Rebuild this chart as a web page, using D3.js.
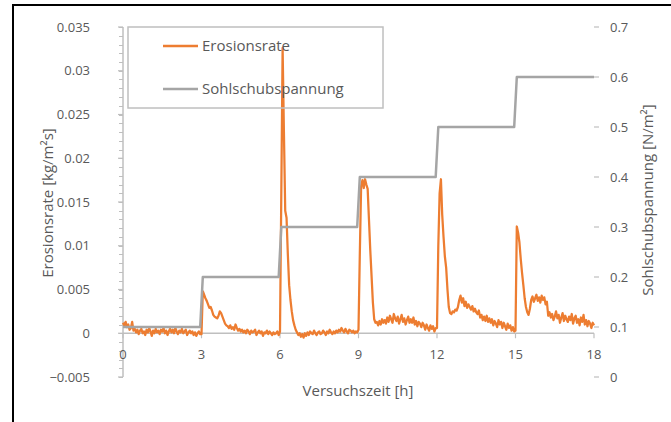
<!DOCTYPE html>
<html>
<head>
<meta charset="utf-8">
<script src="https://cdn.jsdelivr.net/npm/d3@7"></script>
<style>
  html, body { margin: 0; padding: 0; background: #fff; }
  svg { display: block; }
  text { font-family: "Open Sans", "Noto Sans", sans-serif; fill: #595959; }
</style>
</head>
<body>
<svg id="chart" width="671" height="422"></svg>
<script>
// Erosion test: erosion rate (primary axis) and bed shear stress (secondary axis)
const sampleStepHours = 0.05;

// Erosionsrate [kg/m²s], one value every 0.05 h from 0 h to 18 h
const erosionRate = [
  // 0 h
  0.0012, 0.0009, 0.0013, 0.0007, 0.0010, 0.0004, 0.0006, 0.0013, 0.0003, 0.0005,
  0.0001, 0.0004, -0.0001, 0.0003, 0.0005, 0.0000, 0.0002, -0.0002, 0.0004, 0.0001,
  // 1 h
  0.0006, 0.0002, -0.0003, 0.0003, 0.0000, 0.0005, 0.0001, 0.0003, -0.0001, 0.0004,
  0.0002, 0.0006, 0.0000, 0.0003, -0.0002, 0.0002, 0.0005, 0.0001, 0.0004, 0.0000,
  // 2 h
  0.0006, 0.0002, -0.0001, 0.0003, 0.0001, 0.0005, 0.0000, 0.0002, 0.0004, -0.0002,
  0.0001, 0.0003, 0.0000, 0.0002, -0.0002, 0.0001, -0.0003, 0.0000, 0.0002, -0.0001,
  // 3 h
  -0.0001, 0.0048, 0.0044, 0.0040, 0.0037, 0.0033, 0.0029, 0.0030, 0.0026, 0.0021,
  0.0019, 0.0018, 0.0017, 0.0020, 0.0025, 0.0023, 0.0019, 0.0015, 0.0011, 0.0009,
  // 4 h
  0.0008, 0.0006, 0.0009, 0.0005, 0.0007, 0.0004, 0.0010, 0.0006, 0.0003, 0.0005,
  0.0002, 0.0004, 0.0001, 0.0003, 0.0000, 0.0004, 0.0002, -0.0001, 0.0003, 0.0001,
  // 5 h
  0.0002, 0.0004, -0.0002, 0.0001, 0.0003, 0.0000, 0.0002, -0.0003, 0.0001, 0.0000,
  0.0003, -0.0001, 0.0002, 0.0000, -0.0002, 0.0001, -0.0001, 0.0000, 0.0002, -0.0002,
  // 6 h
  0.0002, 0.0160, 0.0326, 0.0230, 0.0140, 0.0132, 0.0090, 0.0055, 0.0038, 0.0025,
  0.0015, 0.0009, 0.0004, 0.0001, -0.0002, 0.0000, -0.0004, -0.0001, -0.0005, 0.0000,
  // 7 h
  -0.0003, 0.0001, -0.0002, 0.0002, 0.0000, -0.0001, 0.0003, 0.0000, -0.0002, 0.0001,
  0.0002, -0.0001, 0.0000, 0.0003, 0.0001, -0.0002, 0.0002, 0.0000, 0.0004, 0.0001,
  // 8 h
  -0.0001, 0.0002, 0.0000, 0.0003, 0.0001, 0.0004, 0.0002, 0.0006, 0.0003, 0.0001,
  0.0005, 0.0002, 0.0000, 0.0004, 0.0003, 0.0001, 0.0003, 0.0000, 0.0002, 0.0001,
  // 9 h
  0.0004, 0.0090, 0.0168, 0.0175, 0.0166, 0.0176, 0.0170, 0.0165, 0.0130, 0.0095,
  0.0065, 0.0035, 0.0016, 0.0012, 0.0013, 0.0009, 0.0014, 0.0010, 0.0016, 0.0012,
  // 10 h
  0.0015, 0.0011, 0.0018, 0.0013, 0.0020, 0.0016, 0.0012, 0.0022, 0.0017, 0.0014,
  0.0019, 0.0011, 0.0016, 0.0021, 0.0013, 0.0017, 0.0010, 0.0015, 0.0019, 0.0012,
  // 11 h
  0.0016, 0.0012, 0.0018, 0.0010, 0.0014, 0.0008, 0.0013, 0.0011, 0.0007, 0.0012,
  0.0009, 0.0004, 0.0010, 0.0006, 0.0003, 0.0009, 0.0005, 0.0008, 0.0002, 0.0006,
  // 12 h
  0.0006, 0.0100, 0.0160, 0.0176, 0.0135, 0.0110, 0.0088, 0.0075, 0.0050, 0.0030,
  0.0023, 0.0022, 0.0025, 0.0024, 0.0027, 0.0026, 0.0030, 0.0038, 0.0043, 0.0035,
  // 13 h
  0.0040, 0.0031, 0.0036, 0.0029, 0.0033, 0.0030, 0.0027, 0.0031, 0.0025, 0.0028,
  0.0024, 0.0022, 0.0026, 0.0018, 0.0021, 0.0015, 0.0019, 0.0014, 0.0020, 0.0013,
  // 14 h
  0.0017, 0.0012, 0.0016, 0.0009, 0.0014, 0.0011, 0.0007, 0.0015, 0.0010, 0.0013,
  0.0006, 0.0012, 0.0008, 0.0004, 0.0011, 0.0006, 0.0009, 0.0003, 0.0007, 0.0002,
  // 15 h
  0.0003, 0.0122, 0.0115, 0.0104, 0.0085, 0.0069, 0.0055, 0.0040, 0.0030, 0.0024,
  0.0021, 0.0028, 0.0038, 0.0042, 0.0036, 0.0040, 0.0044, 0.0037, 0.0041, 0.0035,
  // 16 h
  0.0043, 0.0038, 0.0041, 0.0033, 0.0036, 0.0020, 0.0024, 0.0018, 0.0022, 0.0015,
  0.0019, 0.0025, 0.0017, 0.0021, 0.0012, 0.0018, 0.0023, 0.0014, 0.0020, 0.0016,
  // 17 h
  0.0013, 0.0019, 0.0015, 0.0022, 0.0011, 0.0017, 0.0020, 0.0012, 0.0016, 0.0009,
  0.0018, 0.0013, 0.0021, 0.0010, 0.0015, 0.0008, 0.0014, 0.0011, 0.0006, 0.0012,
  // 18 h
  0.0009
];

// Sohlschubspannung [N/m²], stepped load schedule
const stressTime  = [0, 2.95, 3.05, 5.95, 6.05, 8.95, 9.05, 11.95, 12.05, 14.95, 15.05, 18];
const stressValue = [0.1, 0.1, 0.2, 0.2, 0.3, 0.3, 0.4, 0.4, 0.5, 0.5, 0.6, 0.6];

const timeTicks    = [0, 3, 6, 9, 12, 15, 18];
const rateTicks    = [-0.005, 0, 0.005, 0.01, 0.015, 0.02, 0.025, 0.03, 0.035];
const rateMinor    = d3.range(-0.005, 0.03501, 0.001);
const stressTicks  = [0, 0.1, 0.2, 0.3, 0.4, 0.5, 0.6, 0.7];

const seriesNames = ["Erosionsrate", "Sohlschubspannung"];
const xTitle = "Versuchszeit [h]";
const yTitle = "Erosionsrate [kg/m²s]";
const y2Title = "Sohlschubspannung [N/m²]";

const colors = { rate: "#ED7D31", stress: "#A5A5A5", axis: "#BFBFBF", text: "#595959" };

const svg = d3.select("#chart");
const plot = { left: 123, right: 594, top: 27, bottom: 377 };

const x = d3.scaleLinear().domain([0, 18]).range([plot.left, plot.right]);
const y = d3.scaleLinear().domain([-0.005, 0.035]).range([plot.bottom, plot.top]);
const y2 = d3.scaleLinear().domain([0, 0.7]).range([plot.bottom, plot.top]);

// outer frame
svg.append("rect")
  .attr("x", 13).attr("y", 5).attr("width", 700).attr("height", 500)
  .attr("fill", "none").attr("stroke", "#000").attr("stroke-width", 2);

const fmtRate = v => (Math.abs(v) < 1e-12 ? "0" : d3.format("")(+v.toFixed(3)));

// left axis: minor ticks
const gY = svg.append("g");
gY.selectAll("line.minor").data(rateMinor).join("line")
  .attr("x1", plot.left - 4).attr("x2", plot.left)
  .attr("y1", d => Math.round(y(d)) + 0.5).attr("y2", d => Math.round(y(d)) + 0.5)
  .attr("stroke", colors.axis).attr("stroke-width", 1);
gY.append("line")
  .attr("x1", plot.left).attr("x2", plot.left)
  .attr("y1", plot.top).attr("y2", plot.bottom)
  .attr("stroke", colors.axis).attr("stroke-width", 1.5);
gY.selectAll("line.major").data(rateTicks).join("line")
  .attr("x1", plot.left - 5).attr("x2", plot.left)
  .attr("y1", d => y(d)).attr("y2", d => y(d))
  .attr("stroke", colors.axis).attr("stroke-width", 1.2);
gY.selectAll("text").data(rateTicks).join("text")
  .attr("x", 90).attr("y", d => y(d)).attr("dy", "0.35em")
  .attr("text-anchor", "end").attr("font-size", 13)
  .text(fmtRate);

// right axis
const gY2 = svg.append("g");
gY2.append("line")
  .attr("x1", plot.right).attr("x2", plot.right)
  .attr("y1", plot.top).attr("y2", plot.bottom)
  .attr("stroke", colors.axis).attr("stroke-width", 1.5);
gY2.selectAll("line").data(stressTicks).join("line")
  .attr("x1", plot.right).attr("x2", plot.right + 5)
  .attr("y1", d => y2(d)).attr("y2", d => y2(d))
  .attr("stroke", colors.axis).attr("stroke-width", 1.2);
gY2.selectAll("text").data(stressTicks).join("text")
  .attr("x", 610).attr("y", d => y2(d)).attr("dy", "0.35em")
  .attr("text-anchor", "start").attr("font-size", 13)
  .text(d => d3.format("")(+d.toFixed(1)));

// time axis along the zero line of the erosion rate
const gX = svg.append("g");
gX.append("line")
  .attr("x1", plot.left).attr("x2", plot.right)
  .attr("y1", y(0)).attr("y2", y(0))
  .attr("stroke", colors.axis).attr("stroke-width", 1.5);
gX.selectAll("line.tick").data(timeTicks).join("line")
  .attr("x1", d => x(d)).attr("x2", d => x(d))
  .attr("y1", y(0)).attr("y2", y(0) + 5)
  .attr("stroke", colors.axis).attr("stroke-width", 1.2);
gX.selectAll("text").data(timeTicks).join("text")
  .attr("x", d => x(d)).attr("y", 354).attr("dy", "0.35em")
  .attr("text-anchor", "middle").attr("font-size", 13)
  .text(d => d);

// series
const rateLine = d3.line()
  .x((d, i) => x(i * sampleStepHours))
  .y(d => y(d));
svg.append("path")
  .datum(erosionRate)
  .attr("d", rateLine)
  .attr("fill", "none").attr("stroke", colors.rate)
  .attr("stroke-width", 2.25).attr("stroke-linejoin", "round");

const stressLine = d3.line()
  .x((d, i) => x(stressTime[i]))
  .y(d => y2(d));
svg.append("path")
  .datum(stressValue)
  .attr("d", stressLine)
  .attr("fill", "none").attr("stroke", colors.stress)
  .attr("stroke-width", 2.5).attr("stroke-linejoin", "round");

// axis titles
svg.append("text")
  .attr("x", 358).attr("y", 391).attr("dy", "0.35em")
  .attr("text-anchor", "middle").attr("font-size", 15)
  .text(xTitle);
svg.append("text")
  .attr("transform", "translate(48,203) rotate(-90)")
  .attr("dy", "0.35em").attr("text-anchor", "middle").attr("font-size", 15)
  .text(yTitle);
svg.append("text")
  .attr("transform", "translate(648,200) rotate(-90)")
  .attr("dy", "0.35em").attr("text-anchor", "middle").attr("font-size", 15)
  .text(y2Title);

// legend
const legend = svg.append("g");
legend.append("rect")
  .attr("x", 128).attr("y", 27).attr("width", 255).attr("height", 81)
  .attr("fill", "none").attr("stroke", colors.axis).attr("stroke-width", 1.5);
const legendItems = [
  { name: seriesNames[0], color: colors.rate, y: 46 },
  { name: seriesNames[1], color: colors.stress, y: 89 }
];
legend.selectAll("line").data(legendItems).join("line")
  .attr("x1", 163).attr("x2", 198)
  .attr("y1", d => d.y).attr("y2", d => d.y)
  .attr("stroke", d => d.color).attr("stroke-width", 2.5);
legend.selectAll("text").data(legendItems).join("text")
  .attr("x", 202).attr("y", d => d.y).attr("dy", "0.35em")
  .attr("font-size", 15)
  .text(d => d.name);
</script>
</body>
</html>
